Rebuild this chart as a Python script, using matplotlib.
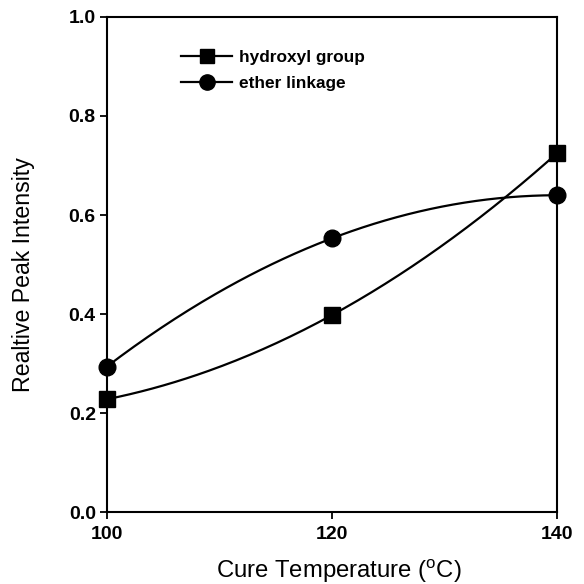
import numpy as np
import matplotlib
matplotlib.use("Agg")
import matplotlib.pyplot as plt

temps = [100, 120, 140]
hydroxyl = [0.228, 0.398, 0.725]
ether = [0.294, 0.553, 0.640]
series_names = ["hydroxyl group", "ether linkage"]
xticks = [100, 120, 140]
yticks = [0.0, 0.2, 0.4, 0.6, 0.8, 1.0]

plt.rcParams['font.family'] = ['Liberation Sans', 'DejaVu Sans']
plt.rcParams['mathtext.fontset'] = 'custom'
plt.rcParams['mathtext.rm'] = 'Liberation Sans'

fig = plt.figure(figsize=(5.84, 5.84), dpi=100)
ax = fig.add_axes([0.183, 0.123, 0.771, 0.848])

def smooth(x, y):
    c = np.polyfit(x, y, 2)
    xs = np.linspace(min(x), max(x), 200)
    return xs, np.polyval(c, xs)

for ys, mk, name, ms in [(hydroxyl, 's', series_names[0], 11), (ether, 'o', series_names[1], 12)]:
    xs, yy = smooth(temps, ys)
    ax.plot(xs, yy, color='black', lw=1.6, clip_on=False)
    ax.plot(temps, ys, linestyle='none', marker=mk, color='black', ms=ms, clip_on=False, zorder=5)
    ax.plot([], [], color='black', lw=1.6, marker=mk, ms=ms - 1, label=name)

ax.set_xlim(100, 140)
ax.set_ylim(0, 1.0)
ax.set_xticks(xticks)
ax.set_xticklabels([str(t) for t in xticks])
ax.set_yticks(yticks)
ax.set_yticklabels([f"{t:.1f}" for t in yticks])
ax.tick_params(direction='out', length=5, width=1.3, labelsize=14, pad=3)
ax.tick_params(axis='x', pad=5)
for lab in ax.get_xticklabels() + ax.get_yticklabels():
    lab.set_fontweight('bold')
for s in ax.spines.values():
    s.set_linewidth(1.5)

ax.set_xlabel(r"Cure Temperature ($\mathrm{^{o}}$C)", fontsize=17.2)
ax.set_ylabel("Realtive Peak Intensity", fontsize=16.7)
ax.xaxis.set_label_coords(0.516, -0.093)
ax.yaxis.set_label_coords(-0.16, 0.479)

leg = ax.legend(loc='upper left', bbox_to_anchor=(0.164, 0.933), frameon=False,
                prop={'size': 12.4, 'weight': 'bold'}, handlelength=3.0, handletextpad=0.4,
                labelspacing=0.65, borderpad=0, borderaxespad=0)

fig.savefig("out.png", dpi=100)
